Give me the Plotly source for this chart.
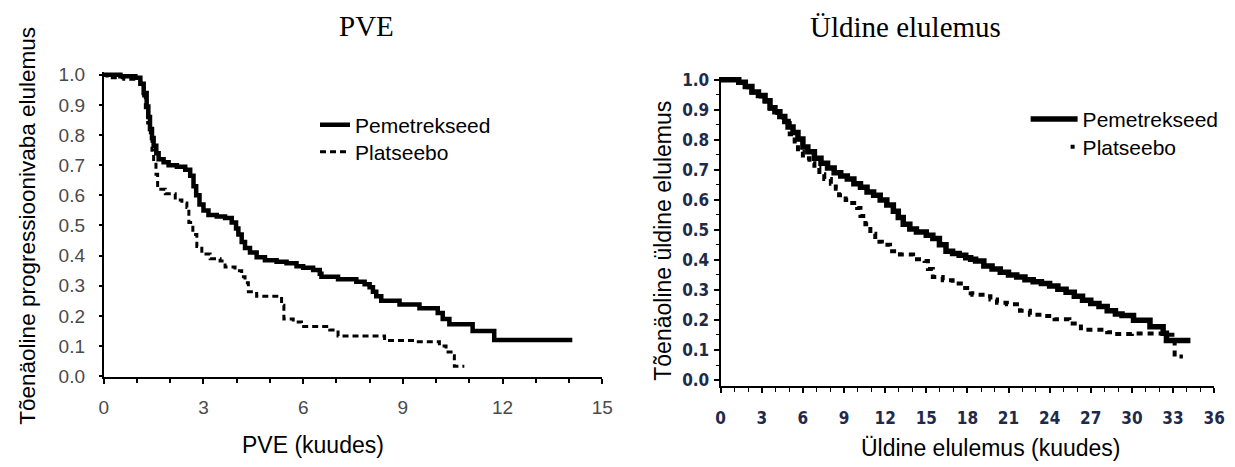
import plotly.graph_objects as go

W, H = 1235, 467
OFF = 8                      # page body margin the figure sits inside
FW, FH = W - OFF, H - OFF    # figure size so the figure ends at the window edge

# ---- Left panel: progression-free survival (PVE) ----
pfs_pem_t = [0, 0.5, 0.95, 1.1, 1.2, 1.29, 1.34, 1.39, 1.45, 1.5, 1.58, 1.65, 1.8, 1.95, 2.2, 2.45,
             2.6, 2.7, 2.78, 2.88, 3.0, 3.15, 3.4, 3.65, 3.85, 3.98, 4.05, 4.15, 4.25, 4.4, 4.6,
             4.85, 5.2, 5.5, 5.8, 6.0, 6.3, 6.5, 6.55, 7.05, 7.6, 7.85, 8.0, 8.1, 8.2, 8.35, 8.9,
             9.5, 10.05, 10.2, 10.4, 11.1, 11.75, 14.1]
pfs_pem_s = [1.0, 0.995, 0.99, 0.97, 0.94, 0.895, 0.86, 0.82, 0.79, 0.765, 0.74, 0.72, 0.71, 0.70,
             0.695, 0.685, 0.665, 0.63, 0.60, 0.57, 0.55, 0.535, 0.53, 0.525, 0.51, 0.49, 0.47,
             0.445, 0.425, 0.41, 0.395, 0.385, 0.38, 0.375, 0.365, 0.36, 0.352, 0.34, 0.33, 0.322,
             0.313, 0.305, 0.295, 0.28, 0.265, 0.25, 0.238, 0.225, 0.21, 0.19, 0.172, 0.15, 0.12, 0.12]

pfs_pla_t = [0, 0.1, 0.6, 1.1, 1.2, 1.25, 1.32, 1.4, 1.45, 1.5, 1.57, 1.62, 1.85, 2.15, 2.35, 2.5,
             2.56, 2.68, 2.8, 2.95, 3.2, 3.5, 3.65, 3.95, 4.15, 4.25, 4.35, 4.6, 5.35, 5.42, 5.7,
             5.95, 6.8, 7.05, 8.45, 9.4, 10.1, 10.3, 10.5, 10.55, 10.85]
pfs_pla_s = [1.0, 0.99, 0.985, 0.975, 0.93, 0.88, 0.84, 0.79, 0.75, 0.71, 0.67, 0.62, 0.605, 0.585,
             0.575, 0.56, 0.51, 0.47, 0.43, 0.405, 0.39, 0.382, 0.362, 0.35, 0.33, 0.31, 0.28,
             0.265, 0.235, 0.19, 0.18, 0.165, 0.153, 0.133, 0.118, 0.114, 0.10, 0.08, 0.068,
             0.033, 0.033]

# ---- Right panel: overall survival ----
os_pem_t = [0, 0.96, 1.32, 1.8, 2.28, 2.76, 3.24, 3.6, 3.96, 4.32, 4.68, 4.92, 5.28, 5.64, 6.0,
            6.36, 6.84, 7.32, 7.8, 8.28, 8.76, 9.24, 9.72, 10.2, 10.68, 11.16, 11.64, 12.12,
            12.6, 12.96, 13.32, 13.8, 14.28, 15.0, 15.48, 15.96, 16.44, 16.92, 17.4, 17.88,
            18.24, 18.6, 19.2, 19.8, 20.4, 21.0, 21.6, 22.2, 22.8, 23.4, 24.0, 24.6, 25.2, 25.8,
            26.4, 27.0, 27.6, 28.2, 28.8, 29.28, 30.12, 31.32, 32.28, 32.52, 34.27]
os_pem_s = [1.0, 1.0, 0.991, 0.977, 0.959, 0.947, 0.930, 0.906, 0.893, 0.877, 0.861, 0.842, 0.824,
            0.802, 0.776, 0.760, 0.738, 0.722, 0.706, 0.690, 0.679, 0.669, 0.653, 0.642, 0.626,
            0.615, 0.599, 0.583, 0.562, 0.541, 0.519, 0.503, 0.493, 0.482, 0.471, 0.450, 0.429,
            0.421, 0.415, 0.407, 0.402, 0.396, 0.380, 0.370, 0.359, 0.350, 0.343, 0.334, 0.327,
            0.321, 0.313, 0.302, 0.292, 0.279, 0.266, 0.255, 0.245, 0.231, 0.220, 0.215, 0.199,
            0.177, 0.156, 0.132, 0.132]

os_pla_t = [0, 0.96, 1.32, 1.8, 2.28, 2.76, 3.24, 3.6, 3.96, 4.32, 4.68, 5.04, 5.4, 5.64, 6.0,
            6.48, 6.84, 7.2, 7.56, 8.04, 8.4, 8.64, 9.12, 9.6, 9.96, 10.2, 10.56, 10.92, 11.28,
            11.76, 12.36, 13.08, 14.04, 14.88, 15.12, 15.48, 16.2, 16.92, 17.52, 18.24, 18.36,
            19.44, 19.68, 20.16, 20.88, 21.84, 22.56, 23.52, 24.36, 25.44, 25.68, 26.28, 26.64,
            28.2, 28.56, 30.0, 32.4, 33.12, 33.72]
os_pla_s = [1.0, 1.0, 0.99, 0.975, 0.957, 0.944, 0.927, 0.903, 0.889, 0.873, 0.856, 0.818, 0.786,
            0.760, 0.738, 0.722, 0.706, 0.685, 0.669, 0.653, 0.637, 0.615, 0.599, 0.589, 0.573,
            0.546, 0.519, 0.487, 0.460, 0.450, 0.429, 0.418, 0.402, 0.396, 0.370, 0.343, 0.332,
            0.321, 0.306, 0.289, 0.284, 0.279, 0.268, 0.257, 0.252, 0.231, 0.217, 0.213, 0.202,
            0.199, 0.188, 0.172, 0.167, 0.159, 0.153, 0.155, 0.151, 0.078, 0.078]

series_names = ["Pemetrekseed", "Platseebo"]
left_title = "PVE"
right_title = "Üldine elulemus"
left_xtitle = "PVE (kuudes)"
right_xtitle = "Üldine elulemus (kuudes)"
left_ytitle = "Tõenäoline progressioonivaba elulemus"
right_ytitle = "Tõenäoline üldine elulemus"

SANS = "Liberation Sans, Arial, sans-serif"
NARROW = "Liberation Sans Narrow, DejaVu Sans Condensed, Arial Narrow, sans-serif"
SERIF = "Liberation Serif, Times New Roman, serif"


def px_x(p):
    """screen pixel x -> paper fraction"""
    return (p - OFF) / FW


def px_y(p):
    """screen pixel y -> paper fraction"""
    return 1 - (p - OFF) / FH


fig = go.Figure()

fig.add_trace(go.Scatter(x=pfs_pem_t, y=pfs_pem_s, mode="lines", line_shape="hv",
                         line=dict(color="black", width=4.5), name=series_names[0],
                         xaxis="x", yaxis="y", legend="legend"))
fig.add_trace(go.Scatter(x=pfs_pla_t, y=pfs_pla_s, mode="lines", line_shape="hv",
                         line=dict(color="black", width=3, dash="6px,4px"), name=series_names[1],
                         xaxis="x", yaxis="y", legend="legend3"))
fig.add_trace(go.Scatter(x=os_pem_t, y=os_pem_s, mode="lines", line_shape="hv",
                         line=dict(color="black", width=5.5), name=series_names[0],
                         xaxis="x2", yaxis="y2", legend="legend2"))
fig.add_trace(go.Scatter(x=os_pla_t, y=os_pla_s, mode="lines", line_shape="hv",
                         line=dict(color="black", width=4, dash="6px,5px"), name=series_names[1],
                         xaxis="x2", yaxis="y2", showlegend=False))
# legend-only entry reproducing the single-dot key of the right panel
fig.add_trace(go.Scatter(x=[None], y=[None], mode="lines",
                         line=dict(color="black", width=4, dash="0px,40px,4px,300px"),
                         name=series_names[1], xaxis="x2", yaxis="y2", legend="legend4"))

left_tick_font = dict(family=SANS, size=19, color="#4a4a4a")
right_tick_font = dict(family=NARROW, size=17, color="#1f2a4a", weight="bold")

common_axis = dict(showgrid=False, zeroline=False, showline=True, linecolor="black",
                   ticks="outside", tickcolor="black")

legend_font = dict(family=SANS, size=21, color="black")


def legend_at(left, top, itemwidth=30):
    return dict(x=px_x(left), y=px_y(top), xanchor="left", yanchor="top",
                bgcolor="rgba(0,0,0,0)", font=legend_font, itemwidth=itemwidth)


fig.update_layout(
    width=FW, height=FH, autosize=False,
    margin=dict(l=0, r=0, t=0, b=0),
    paper_bgcolor="white", plot_bgcolor="white",
    xaxis=dict(domain=[px_x(100), px_x(605)], range=[0, 15], dtick=3, tick0=0,
               ticklen=5, tickwidth=1.5, linewidth=2, tickfont=left_tick_font, anchor="y",
               minor=dict(dtick=1, ticks="outside", ticklen=4, tickcolor="black", tickwidth=1.5),
               ticklabelstandoff=7, **common_axis),
    yaxis=dict(domain=[px_y(384), px_y(67)], range=[-0.003, 1.01], dtick=0.1, tick0=0,
               tickformat=".1f", ticklen=3, tickwidth=1.5, linewidth=2, tickfont=left_tick_font,
               anchor="x", ticklabelstandoff=10, **common_axis),
    xaxis2=dict(domain=[px_x(725), px_x(1225)], range=[0, 36], dtick=3, tick0=0,
                ticklen=5, tickwidth=1.5, linewidth=2, tickfont=right_tick_font, anchor="y2",
                minor=dict(dtick=1, ticks="outside", ticklen=4, tickcolor="black", tickwidth=1.2),
                ticklabelstandoff=11, **common_axis),
    yaxis2=dict(domain=[px_y(393), px_y(72)], range=[-0.019, 1.01], dtick=0.1, tick0=0,
                tickformat=".1f", ticklen=5, tickwidth=1.5, linewidth=2, tickfont=right_tick_font,
                anchor="x2", ticklabelstandoff=1,
                minor=dict(dtick=0.05, ticks="outside", ticklen=3, tickcolor="black", tickwidth=1),
                **common_axis),
    legend=legend_at(314, 101),
    legend3=legend_at(314, 129),
    legend2=legend_at(1034, 95, itemwidth=47),
    legend4=legend_at(1034, 124, itemwidth=47),
    showlegend=True,
)

annos = [
    dict(text=left_title, x=px_x(366), y=px_y(19), font=dict(family=SERIF, size=29, color="black")),
    dict(text=right_title, x=px_x(912), y=px_y(20), font=dict(family=SERIF, size=29, color="black")),
    dict(text=left_xtitle, x=px_x(312), y=px_y(455), font=dict(family=SANS, size=23, color="black")),
    dict(text=right_xtitle, x=px_x(999), y=px_y(458), font=dict(family=SANS, size=23, color="black")),
    dict(text=left_ytitle, x=px_x(23), y=px_y(227), textangle=-90,
         font=dict(family=SANS, size=22.5, color="black")),
    dict(text=right_ytitle, x=px_x(667), y=px_y(242), textangle=-90,
         font=dict(family=SANS, size=23, color="black")),
]
for a in annos:
    fig.add_annotation(xref="paper", yref="paper", showarrow=False,
                       xanchor="center", yanchor="middle", **a)

fig.write_html("out.html")
